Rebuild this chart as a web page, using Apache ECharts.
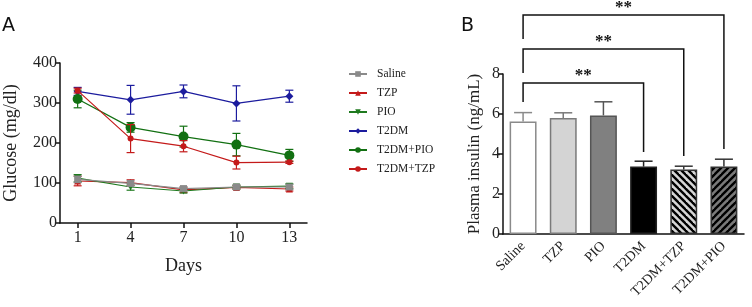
<!DOCTYPE html>
<html>
<head>
<meta charset="utf-8">
<script src="https://cdn.jsdelivr.net/npm/echarts@6/dist/echarts.min.js"></script>
<style>
  html, body { margin: 0; padding: 0; background: #fff; }
</style>
</head>
<body>
<div id="chart" style="width: 752px; height: 307px"></div>
<script>
// ---- panel A: glucose over days ----
const days = [1, 4, 7, 10, 13];
const groupsA = ["Saline", "TZP", "PIO", "T2DM", "T2DM+PIO", "T2DM+TZP"];
const salineMean = [109, 99, 86, 90, 90];
const salineErr = [8, 6, 5, 4, 6];
const tzpMean = [105, 101, 83, 89, 85];
const tzpErr = [12, 7, 6, 4, 5];
const pioMean = [112, 90, 80, 90, 92];
const pioErr = [9, 8, 5, 5, 6];
const t2dmMean = [329, 308, 329, 299, 317];
const t2dmErr = [10, 36, 16, 44, 15];
const t2dmPioMean = [310, 239, 216, 196, 169];
const t2dmPioErr = [22, 12, 26, 28, 15];
const t2dmTzpMean = [331, 211, 192, 151, 152];
const t2dmTzpErr = [6, 35, 14, 16, 3];

// ---- panel B: plasma insulin ----
const barCats = ["Saline", "TZP", "PIO", "T2DM", "T2DM+TZP", "T2DM+PIO"];
const barMean = [5.62, 5.8, 5.93, 3.37, 3.22, 3.37];
const barErr = [0.45, 0.26, 0.68, 0.27, 0.17, 0.37];
// [from, to, bracket level, left end, right end]
const brackets = [
  [0, 3, 7.55, 6.6, 4.1],
  [0, 4, 9.25, 8.05, 3.9],
  [0, 5, 10.95, 9.75, 4.25],
];

const serif = "Liberation Serif";

// striped fills for the two combination bars
function stripes(bg, dir) {
  const s = 7;
  const c = document.createElement("canvas");
  c.width = s;
  c.height = s;
  const ctx = c.getContext("2d");
  ctx.fillStyle = bg;
  ctx.fillRect(0, 0, s, s);
  ctx.strokeStyle = "#000";
  ctx.lineWidth = 2.4;
  for (let k = -s; k <= s; k += s) {
    ctx.beginPath();
    if (dir === "\\") {
      ctx.moveTo(k - 1, -1);
      ctx.lineTo(k + s + 1, s + 1);
    } else {
      ctx.moveTo(k + s + 1, -1);
      ctx.lineTo(k - 1, s + 1);
    }
    ctx.stroke();
  }
  return { image: c, repeat: "repeat" };
}

const barFill = ["#ffffff", "#d4d4d4", "#808080", "#000000", stripes("#d6d6d6", "\\"), stripes("#7a7a7a", "/")];
const barBorder = ["#8a8a8a", "#7a7a7a", "#555555", "#222222", "#333333", "#333333"];

// line series styles
const lineStyles = {
  "Saline": { color: "#8a8a8a", symbol: "rect", size: 7, mean: salineMean, err: salineErr, z: 6 },
  "TZP": { color: "#c41a1a", symbol: "triangle", size: 7, mean: tzpMean, err: tzpErr, z: 4 },
  "PIO": { color: "#1f7a1f", symbol: "triangle", size: 7, rotate: 180, mean: pioMean, err: pioErr, z: 5 },
  "T2DM": { color: "#1c1c9e", symbol: "diamond", size: 8, mean: t2dmMean, err: t2dmErr, z: 3 },
  "T2DM+PIO": { color: "#127012", symbol: "circle", size: 10, mean: t2dmPioMean, err: t2dmPioErr, z: 3 },
  "T2DM+TZP": { color: "#c41a1a", symbol: "circle", size: 6, mean: t2dmTzpMean, err: t2dmTzpErr, z: 4 },
};

const series = [];
groupsA.forEach(function (name) {
  const st = lineStyles[name];
  series.push({
    name: name,
    type: "line",
    xAxisIndex: 0,
    yAxisIndex: 0,
    data: days.map((d, i) => [d, st.mean[i]]),
    symbol: st.symbol,
    symbolSize: st.size,
    symbolRotate: st.rotate || 0,
    showAllSymbol: true,
    z: st.z,
    lineStyle: { color: st.color, width: 1.2 },
    itemStyle: { color: st.color },
    emphasis: { disabled: true },
  });
  // error bars (both directions)
  series.push({
    name: "err " + name,
    type: "custom",
    xAxisIndex: 0,
    yAxisIndex: 0,
    z: st.z,
    clip: false,
    data: days.map((d, i) => [d, st.mean[i], st.err[i]]),
    renderItem: function (params, api) {
      const x = api.value(0), y = api.value(1), e = api.value(2);
      const top = api.coord([x, y + e]);
      const bot = api.coord([x, y - e]);
      const w = 4;
      const style = { stroke: st.color, lineWidth: 1.2 };
      return {
        type: "group",
        children: [
          { type: "line", shape: { x1: top[0], y1: top[1], x2: bot[0], y2: bot[1] }, style: style },
          { type: "line", shape: { x1: top[0] - w, y1: top[1], x2: top[0] + w, y2: top[1] }, style: style },
          { type: "line", shape: { x1: bot[0] - w, y1: bot[1], x2: bot[0] + w, y2: bot[1] }, style: style },
        ],
      };
    },
  });
});

// bars
series.push({
  name: "insulin",
  type: "bar",
  xAxisIndex: 1,
  yAxisIndex: 1,
  barWidth: "67%",
  data: barMean.map((v, i) => ({
    value: v,
    itemStyle: { color: barFill[i], borderColor: barBorder[i], borderWidth: 1.5 },
  })),
  emphasis: { disabled: true },
});

// bar error bars (up only)
series.push({
  name: "insulin err",
  type: "custom",
  xAxisIndex: 1,
  yAxisIndex: 1,
  clip: false,
  z: 3,
  data: barMean.map((v, i) => [i, v, barErr[i]]),
  renderItem: function (params, api) {
    const i = api.value(0), v = api.value(1), e = api.value(2);
    const base = api.coord([i, v]);
    const top = api.coord([i, v + e]);
    const w = 9;
    const style = { stroke: barBorder[i], lineWidth: 1.5 };
    return {
      type: "group",
      children: [
        { type: "line", shape: { x1: base[0], y1: base[1], x2: top[0], y2: top[1] }, style: style },
        { type: "line", shape: { x1: top[0] - w, y1: top[1], x2: top[0] + w, y2: top[1] }, style: style },
      ],
    };
  },
});

// significance brackets
series.push({
  name: "brackets",
  type: "custom",
  xAxisIndex: 1,
  yAxisIndex: 1,
  clip: false,
  silent: true,
  data: brackets,
  renderItem: function (params, api) {
    const a = api.value(0), b = api.value(1), lv = api.value(2);
    const p1 = api.coord([a, api.value(3)]);
    const p2 = api.coord([a, lv]);
    const p3 = api.coord([b, lv]);
    const p4 = api.coord([b, api.value(4)]);
    return {
      type: "group",
      children: [
        {
          type: "polyline",
          shape: { points: [p1, p2, p3, p4] },
          style: { stroke: "#111", lineWidth: 1.5, fill: null },
        },
        {
          type: "text",
          style: {
            text: "**",
            x: (p2[0] + p3[0]) / 2,
            y: p2[1] - 7,
            align: "center",
            verticalAlign: "middle",
            font: "bold 17px " + serif,
            fill: "#111",
          },
        },
      ],
    };
  },
});

const chart = echarts.init(document.getElementById("chart"), null, { renderer: "canvas" });
chart.setOption({
  animation: false,
  textStyle: { fontFamily: serif },
  graphic: [
    { type: "text", left: 2, top: 17, style: { text: "A", font: "19px DejaVu Sans", fill: "#111" } },
    { type: "text", left: 461, top: 17, style: { text: "B", font: "19px DejaVu Sans", fill: "#111" } },
  ],
  legend: {
    data: groupsA,
    orient: "vertical",
    left: 343,
    top: 63,
    itemWidth: 18,
    itemHeight: 7,
    itemGap: 7,
    selectedMode: false,
    textStyle: { fontFamily: serif, fontSize: 11.5, color: "#222", padding: [0, 0, 0, 5] },
  },
  grid: [
    { left: 60, top: 63, width: 247, height: 160 },
    { left: 503, top: 74, width: 241, height: 160 },
  ],
  xAxis: [
    {
      gridIndex: 0,
      type: "value",
      min: 0,
      max: 14,
      name: "Days",
      nameLocation: "middle",
      nameGap: 34,
      nameTextStyle: { fontFamily: serif, fontSize: 18, color: "#222" },
      axisLine: { lineStyle: { color: "#111", width: 1.5 } },
      axisTick: { customValues: days, length: 5, lineStyle: { color: "#111", width: 1.5 } },
      axisLabel: { customValues: days, fontFamily: serif, fontSize: 16, color: "#222", margin: 7 },
      splitLine: { show: false },
    },
    {
      gridIndex: 1,
      type: "category",
      data: barCats,
      axisLine: { lineStyle: { color: "#111", width: 1.5 } },
      axisTick: { alignWithLabel: true, length: 5, lineStyle: { color: "#111", width: 1.5 } },
      axisLabel: { rotate: 45, interval: 0, fontFamily: serif, fontSize: 14, color: "#222", margin: 10 },
    },
  ],
  yAxis: [
    {
      gridIndex: 0,
      type: "value",
      min: 0,
      max: 400,
      interval: 100,
      name: "Glucose (mg/dl)",
      nameLocation: "middle",
      nameGap: 40,
      nameTextStyle: { fontFamily: serif, fontSize: 18, color: "#222" },
      axisLine: { show: true, lineStyle: { color: "#111", width: 1.5 } },
      axisTick: { show: true, length: 5, lineStyle: { color: "#111", width: 1.5 } },
      axisLabel: { fontFamily: serif, fontSize: 16, color: "#222", margin: 3 },
      splitLine: { show: false },
    },
    {
      gridIndex: 1,
      type: "value",
      min: 0,
      max: 8,
      interval: 2,
      name: "Plasma insulin (ng/mL)",
      nameLocation: "middle",
      nameGap: 20,
      nameTextStyle: { fontFamily: serif, fontSize: 17, color: "#222" },
      axisLine: { show: true, lineStyle: { color: "#111", width: 1.5 } },
      axisTick: { show: true, length: 5, lineStyle: { color: "#111", width: 1.5 } },
      axisLabel: { fontFamily: serif, fontSize: 16, color: "#222", margin: 3 },
      splitLine: { show: false },
    },
  ],
  series: series,
});
</script>
</body>
</html>
